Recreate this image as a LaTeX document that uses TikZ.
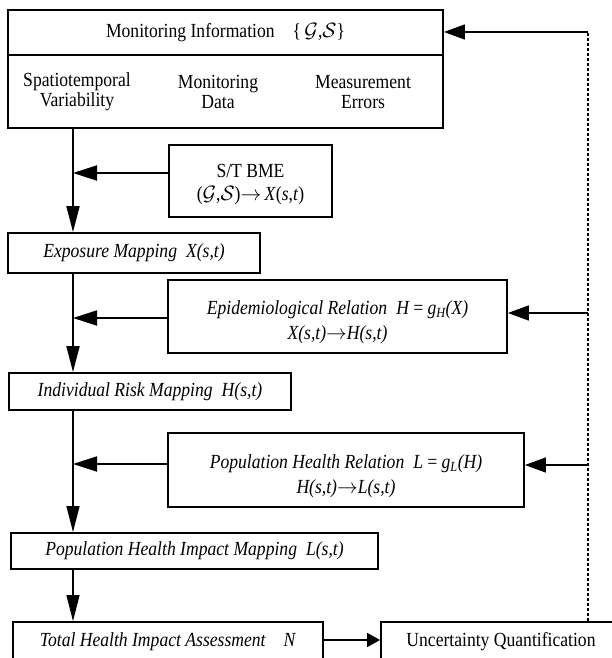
\documentclass[tikz,border=0pt]{standalone}
\usepackage{fontspec}
\setmainfont[FakeStretch=0.88]{Liberation Serif}
\usetikzlibrary{arrows.meta,calc}
\begin{document}
\begin{tikzpicture}[x=1pt,y=-1pt,
  font=\fontsize{20}{21}\selectfont,
  box/.style={draw, line width=1.8pt, rectangle, inner sep=0pt, align=center},
  txt/.style={inner sep=0pt, align=center},
  flow/.style={line width=1.8pt},
  thin flow/.style={line width=1.2pt},
  fb/.style={line width=1.4pt},
  feedback/.style={line width=1.8pt, dash pattern=on 3pt off 2pt},
  side tip/.style={-{Triangle[length=24pt,width=15pt]}},
  down tip/.style={-{Triangle[length=26pt,width=13pt]}},
  fb tip/.style={-{Triangle[length=21pt,width=15pt]}},
  small tip/.style={-{Triangle[length=13pt,width=14pt]}}]
\useasboundingbox (0,0) rectangle (611,658);

% boxes
\node[box, minimum width=435pt, minimum height=118pt] (mon) at (225.5,69) {};
\node[txt] (title) at (225.5,33) {Monitoring Information\hspace{0.9em}\{\,$\mathcal{G}$,$\mathcal{S}$\}};
\node[txt, font=\fontsize{20}{20}\selectfont] (c1) at (77,92) {Spatiotemporal\\Variability};
\node[txt, font=\fontsize{20}{20}\selectfont] (c2) at (218,92) {Monitoring\\Data};
\node[txt, font=\fontsize{20}{20}\selectfont] (c3) at (363,92) {Measurement\\Errors};

\node[box, minimum width=163pt, minimum height=72pt] (bme) at (250.5,181)
  {\rule{0pt}{20pt}S/T BME\\[2pt]($\mathcal{G}$,$\mathcal{S}$)$\rightarrow$\,\textit{X}(\textit{s},\textit{t})};
\node[box, minimum width=252pt, minimum height=40pt] (exp) at (134,253)
  {\textit{Exposure Mapping\hspace{0.45em}X(s,t)}};
\node[box, minimum width=339pt, minimum height=73pt] (epi) at (337.5,316.5)
  {\rule{0pt}{26pt}\textit{Epidemiological Relation\hspace{0.45em}H\,=\,g\textsubscript{H}(X)}\\[4pt]
   \textit{X(s,t)}$\rightarrow$\textit{H(s,t)}};
\node[box, minimum width=282pt, minimum height=37pt] (ind) at (150,391.5)
  {\textit{Individual Risk Mapping\hspace{0.45em}H(s,t)}};
\node[box, minimum width=356pt, minimum height=74pt] (pop) at (346,470)
  {\rule{0pt}{26pt}\textit{Population Health Relation\hspace{0.45em}L\,=\,g\textsubscript{L}(H)}\\[4pt]
   \textit{H(s,t)}$\rightarrow$\textit{L(s,t)}};
\node[box, minimum width=367pt, minimum height=36pt] (imp) at (194.5,551)
  {\textit{Population Health Impact Mapping\hspace{0.45em}L(s,t)}};
\node[box, minimum width=310pt, minimum height=40pt] (tot) at (168,642)
  {\textit{Total Health Impact Assessment\hspace{0.9em}N}};
\node[box, minimum width=240pt, minimum height=40pt] (unc) at (501,642)
  {Uncertainty Quantification};

% divider of the top box
\coordinate (div) at (0,55);
\draw[flow] (mon.west |- div) -- (mon.east |- div);

% spine
\coordinate (spine) at (73,0);
\draw[flow, down tip] (mon.south -| spine) -- (exp.north -| spine);
\draw[flow, down tip] (exp.south -| spine) -- (ind.north -| spine);
\draw[thin flow, down tip] (ind.south -| spine) -- (imp.north -| spine);
\draw[thin flow, down tip] (imp.south -| spine) -- (tot.north -| spine);

% side inputs
\coordinate (sb) at ($(bme.west)+(0,-8)$);
\coordinate (se) at ($(epi.west)+(0,1.5)$);
\coordinate (sp) at ($(pop.west)+(0,-6)$);
\draw[flow, side tip] (sb) -- (sb -| spine);
\draw[flow, side tip] (se) -- (se -| spine);
\draw[flow, side tip] (sp) -- (sp -| spine);

% to uncertainty
\coordinate (st) at ($(tot.east)+(0,-2)$);
\draw[flow, small tip] (st) -- (st -| unc.west);

% feedback
\coordinate (ftop) at (588,32);
\coordinate (fepi) at (588,313);
\coordinate (fpop) at (588,465);
\draw[feedback] (unc.north -| ftop) -- (ftop);
\draw[fb, fb tip] (ftop) -- (ftop -| mon.east);
\draw[fb, fb tip] (fepi) -- (fepi -| epi.east);
\draw[fb, fb tip] (fpop) -- (fpop -| pop.east);
\end{tikzpicture}
\end{document}
